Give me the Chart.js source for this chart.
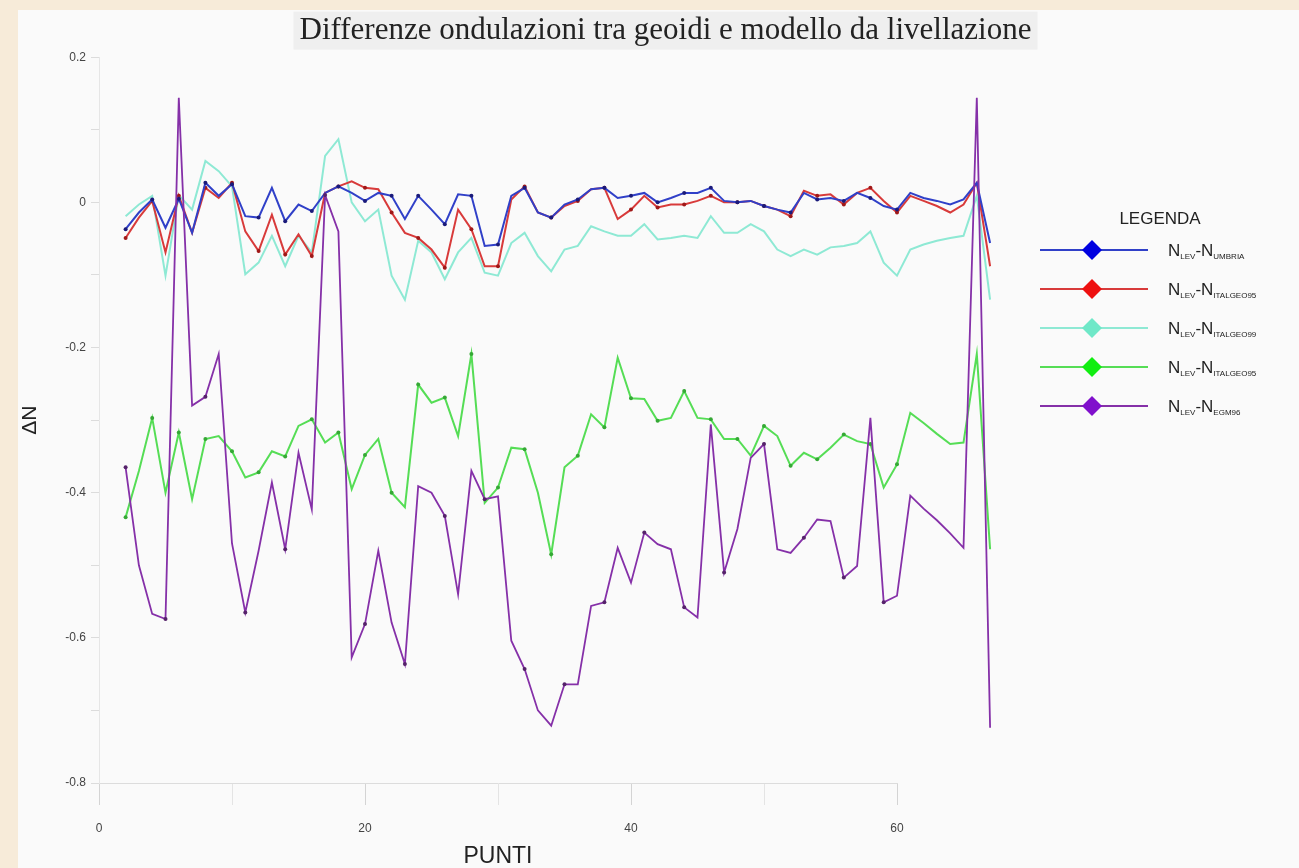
<!DOCTYPE html>
<html><head><meta charset="utf-8">
<script src="https://cdn.jsdelivr.net/npm/chart.js@4.4.1/dist/chart.umd.min.js"></script>
<style>
html,body{margin:0;padding:0;background:#f7ebd9;overflow:hidden;}
#wrap{position:relative;width:1299px;height:868px;}
#paper{position:absolute;left:18px;top:10px;right:0;bottom:0;background:#fafafa;}
canvas{position:absolute;left:0;top:0;}
</style></head><body>
<div id="wrap"><div id="paper"></div><canvas id="c" width="1299" height="868"></canvas></div>
<script>
// ---- data ----
const titolo = 'Differenze ondulazioni tra geoidi e modello da livellazione';
const punti = [2,3,4,5,6,7,8,9,10,11,12,13,14,15,16,17,18,19,20,21,22,23,24,25,26,27,28,29,30,31,32,33,34,35,36,37,38,39,40,41,42,43,44,45,46,47,48,49,50,51,52,53,54,55,56,57,58,59,60,61,62,63,64,65,66,67];
const riferimenti = ['UMBRIA','ITALGEO95','ITALGEO99','ITALGEO95','EGM96'];
const dN_umbria = [-0.037,-0.014,0.004,-0.035,0.005,-0.042,0.027,0.009,0.025,-0.019,-0.021,0.02,-0.026,-0.003,-0.012,0.013,0.022,0.013,0.002,0.013,0.009,-0.023,0.009,-0.01,-0.03,0.011,0.009,-0.06,-0.058,0.009,0.02,-0.014,-0.021,-0.003,0.004,0.018,0.02,0.006,0.009,0.013,0,0.006,0.013,0.013,0.02,0.002,0,0.002,-0.005,-0.01,-0.014,0.013,0.004,0.006,0.002,0.013,0.006,-0.005,-0.01,0.013,0.006,0.002,-0.003,0.004,0.027,-0.056];
const dN_italgeo95 = [-0.049,-0.021,0.002,-0.069,0.009,-0.042,0.02,0.006,0.027,-0.04,-0.067,-0.017,-0.072,-0.044,-0.074,0.013,0.022,0.029,0.02,0.018,-0.014,-0.042,-0.049,-0.065,-0.09,-0.01,-0.037,-0.088,-0.088,0.004,0.022,-0.014,-0.021,-0.005,0.002,0.018,0.02,-0.023,-0.01,0.009,-0.007,-0.003,-0.003,0.002,0.009,0,0,0.002,-0.005,-0.01,-0.019,0.016,0.009,0.011,-0.003,0.013,0.02,0.002,-0.014,0.009,0.002,-0.005,-0.014,-0.003,0.027,-0.088];
const dN_italgeo99 = [-0.019,-0.003,0.009,-0.101,0.01,-0.01,0.057,0.043,0.022,-0.099,-0.083,-0.046,-0.088,-0.046,-0.069,0.064,0.087,0,-0.026,-0.01,-0.101,-0.134,-0.053,-0.069,-0.106,-0.069,-0.049,-0.097,-0.101,-0.056,-0.042,-0.074,-0.095,-0.065,-0.06,-0.033,-0.04,-0.046,-0.046,-0.03,-0.051,-0.049,-0.046,-0.049,-0.019,-0.042,-0.042,-0.03,-0.04,-0.065,-0.074,-0.065,-0.072,-0.062,-0.06,-0.056,-0.04,-0.083,-0.101,-0.065,-0.058,-0.053,-0.049,-0.046,0.009,-0.134];
const dN_italgeo95b = [-0.434,-0.37,-0.297,-0.4,-0.317,-0.409,-0.326,-0.322,-0.343,-0.379,-0.372,-0.343,-0.35,-0.308,-0.299,-0.331,-0.317,-0.395,-0.348,-0.326,-0.4,-0.42,-0.251,-0.276,-0.269,-0.322,-0.209,-0.414,-0.393,-0.338,-0.34,-0.4,-0.485,-0.365,-0.349,-0.292,-0.31,-0.214,-0.27,-0.271,-0.301,-0.297,-0.26,-0.297,-0.299,-0.326,-0.326,-0.349,-0.308,-0.322,-0.363,-0.345,-0.354,-0.338,-0.32,-0.329,-0.333,-0.393,-0.361,-0.29,-0.304,-0.319,-0.333,-0.331,-0.209,-0.478];
const dN_egm96 = [-0.365,-0.5,-0.567,-0.574,0.144,-0.28,-0.268,-0.209,-0.47,-0.565,-0.48,-0.386,-0.478,-0.345,-0.423,0.01,-0.04,-0.627,-0.581,-0.48,-0.579,-0.636,-0.391,-0.4,-0.432,-0.54,-0.37,-0.409,-0.405,-0.604,-0.643,-0.7,-0.721,-0.664,-0.664,-0.556,-0.551,-0.476,-0.524,-0.455,-0.471,-0.478,-0.558,-0.572,-0.306,-0.51,-0.45,-0.352,-0.333,-0.478,-0.483,-0.462,-0.437,-0.439,-0.517,-0.501,-0.297,-0.551,-0.542,-0.404,-0.422,-0.438,-0.456,-0.476,0.144,-0.724];
const xTicks = [0,20,40,60];
const yTicks = [0.2,0,-0.2,-0.4,-0.6,-0.8];

// ---- styles ----
const NARROW = '"Liberation Sans Narrow","Liberation Sans",Arial,sans-serif';
const serie = [
  {vals:dN_umbria,    line:'#3040c8', mark:'#1a1a7a', diamond:'#0000e0', lw:2,   order:1, marks:x=>x%2===0},
  {vals:dN_italgeo95, line:'#d83a3a', mark:'#a01818', diamond:'#ee1010', lw:2,   order:2, marks:x=>x%2===0},
  {vals:dN_italgeo99, line:'#8ee9d4', mark:'#8ee9d4', diamond:'#6fe8c8', lw:2,   order:4, marks:x=>false},
  {vals:dN_italgeo95b,line:'#55dd55', mark:'#35a835', diamond:'#11ee11', lw:2,   order:3, marks:x=>x%2===0},
  {vals:dN_egm96,     line:'#8530a8', mark:'#55226a', diamond:'#8010cc', lw:1.8, order:0, marks:x=>(x-2)%3===0}
];

const datasets = serie.map((s,i)=>({
  label: 'NLEV-N' + riferimenti[i],
  data: punti.map((p,k)=>({x:p, y:s.vals[k]})),
  borderColor: s.line,
  backgroundColor: s.mark,
  borderWidth: s.lw,
  tension: 0,
  clip: false,
  order: s.order,
  pointRadius: c => (c.raw && s.marks(c.raw.x)) ? 2 : 0,
  pointBorderWidth: 0,
  pointBackgroundColor: s.mark,
  pointHoverRadius: 0
}));

const titleBg = {
  id:'titleBg',
  beforeDraw(chart){
    const tb = chart.titleBlock; if(!tb) return;
    const ctx = chart.ctx;
    ctx.save();
    ctx.font = '31px "Liberation Serif","Times New Roman",serif';
    const w = ctx.measureText(titolo).width;
    const cx = (tb.left + tb.right)/2;
    const cy = tb.top + 4 + 37.2/2;
    ctx.fillStyle = '#efefef';
    ctx.fillRect(cx - w/2 - 6, cy - 19, w + 12, 38);
    ctx.restore();
  }
};

const legenda = {
  id:'legenda',
  afterDraw(chart){
    const ctx = chart.ctx;
    const x0 = chart.chartArea.right + 143;
    ctx.save();
    ctx.fillStyle = '#222';
    ctx.textBaseline = 'alphabetic';
    ctx.textAlign = 'center';
    ctx.font = '17px ' + NARROW;
    ctx.fillText('LEGENDA', x0 + 120, 224);
    serie.forEach((s,i)=>{
      const y = 250 + i*39;
      ctx.strokeStyle = s.line; ctx.lineWidth = 2;
      ctx.beginPath(); ctx.moveTo(x0, y); ctx.lineTo(x0+108, y); ctx.stroke();
      ctx.fillStyle = s.diamond;
      ctx.beginPath(); ctx.moveTo(x0+52, y-10); ctx.lineTo(x0+62, y); ctx.lineTo(x0+52, y+10); ctx.lineTo(x0+42, y); ctx.closePath(); ctx.fill();
      ctx.fillStyle = '#222'; ctx.textAlign = 'left';
      let tx = x0 + 128; const base = y + 6;
      const big = '17px ' + NARROW, small = '8px ' + NARROW;
      ctx.font = big; ctx.fillText('N', tx, base); tx += ctx.measureText('N').width;
      ctx.font = small; ctx.fillText('LEV', tx, base + 3); tx += ctx.measureText('LEV').width;
      ctx.font = big; ctx.fillText('-N', tx, base); tx += ctx.measureText('-N').width;
      ctx.font = small; ctx.fillText(riferimenti[i], tx, base + 3);
    });
    ctx.restore();
  }
};

new Chart(document.getElementById('c'), {
  type:'line',
  data:{datasets},
  plugins:[titleBg, legenda],
  options:{
    responsive:false, animation:false,
    layout:{padding:{top:8,left:32,right:0,bottom:0}},
    plugins:{
      legend:{display:false}, tooltip:{enabled:false},
      title:{display:true, text:titolo, color:'#222', padding:{top:4,bottom:8},
        font:{family:'"Liberation Serif","Times New Roman",serif', size:31, weight:'normal', lineHeight:1.2}}
    },
    scales:{
      x:{type:'linear', position:'bottom',
        afterDataLimits(s){ s.min = xTicks[0]; s.max = xTicks[xTicks.length-1]; },
        afterFit(s){ s.height = 85; },
        ticks:{stepSize:10, autoSkip:false, maxRotation:0, padding:16, color:'#444',
          font:{family:NARROW, size:12},
          callback:v=> xTicks.includes(v) ? String(v) : ''},
        grid:{display:true, drawOnChartArea:false, drawTicks:true, tickLength:22,
          tickColor:c=> xTicks.includes(c.tick && c.tick.value) ? '#d4d4d4' : '#e4e4e4'},
        border:{display:true, color:'#dcdcdc', width:1},
        title:{display:true, text:'PUNTI', color:'#222', padding:{top:0,bottom:0},
          font:{family:'"Liberation Sans",Arial,sans-serif', size:23, lineHeight:1}}
      },
      y:{type:'linear', position:'left', min:-0.8, max:0.2,
        afterFit(s){ s.width = 67; },
        ticks:{stepSize:0.1, autoSkip:false, padding:5, color:'#444',
          font:{family:NARROW, size:12},
          callback:v=>{ const k = Math.round(v*10); if(k%2!==0) return ''; const t = yTicks.find(q=>Math.abs(q-k/10)<1e-9); return t===0 ? '0' : t.toFixed(1); }},
        grid:{display:true, drawOnChartArea:false, drawTicks:true, tickLength:8, tickColor:'#dcdcdc'},
        border:{display:true, color:'#e6e6e6', width:1},
        title:{display:true, text:'ΔN', color:'#222', padding:{top:-12,bottom:0},
          font:{family:'"Liberation Sans",Arial,sans-serif', size:21, lineHeight:1}}
      },
      y2:{type:'linear', position:'right', display:true,
        afterFit(s){ s.width = 402; },
        ticks:{display:false}, grid:{display:false, drawTicks:false}, border:{display:false}}
    }
  }
});
</script>
</body></html>
